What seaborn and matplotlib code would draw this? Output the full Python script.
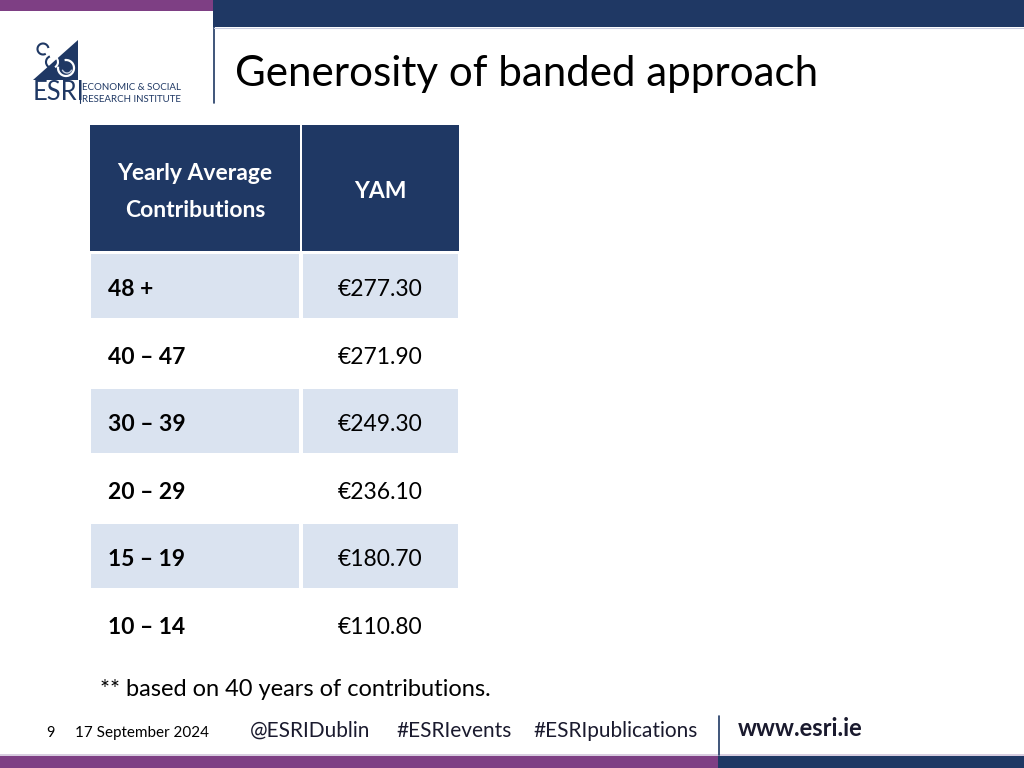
import matplotlib
matplotlib.use("Agg")
import matplotlib.pyplot as plt
from matplotlib.colors import ListedColormap
from matplotlib.patches import Rectangle, Polygon, Arc
import numpy as np
import seaborn as sns

# table data
bands = ["48 +", "40 \u2013 47", "30 \u2013 39", "20 \u2013 29", "15 \u2013 19", "10 \u2013 14"]
yam = [277.30, 271.90, 249.30, 236.10, 180.70, 110.80]
header = ["Yearly Average\nContributions", "YAM"]
title = "Generosity of banded approach"
note = "** based on 40 years of contributions."
footer = ["@ESRIDublin", "#ESRIevents", "#ESRIpublications"]

NAVY = "#1f3864"
PURPLE = "#7e3f84"
LIGHT = "#dae3f0"

sns.set_theme(style="white")
plt.rcParams["font.family"] = ["Lato", "DejaVu Sans"]

W, H = 1024, 768
fig = plt.figure(figsize=(10.24, 7.68), dpi=100)
fig.patch.set_facecolor("white")


def fax(x0, y0, x1, y1):
    # axes in pixel coords (top-left origin)
    return fig.add_axes([x0 / W, 1 - y1 / H, (x1 - x0) / W, (y1 - y0) / H])


# body rows via seaborn heatmaps, one per column (columns differ in width)
shade = np.array([[i % 2] for i in range(len(bands))])
cmap = ListedColormap([LIGHT, "white"])
row_top, row_bot = 252, 657
cols = [(89, 301), (301, 460)]
for c, (x0, x1) in enumerate(cols):
    a = fax(x0, row_top, x1, row_bot)
    sns.heatmap(shade, ax=a, cmap=cmap, vmin=0, vmax=1, cbar=False,
                linewidths=1.5, linecolor="white", xticklabels=False,
                yticklabels=False)
    for i, b in enumerate(bands):
        if c == 0:
            a.text(0.09, i + 0.56, b, ha="left", va="center", fontsize=16.5,
                   fontweight="bold", color="black")
        else:
            a.text(0.5, i + 0.56, f"\u20ac{yam[i]:.2f}", ha="center",
                   va="center", fontsize=16.5, color="black")

# overlay for slide decorations
ax = fig.add_axes([0, 0, 1, 1])
ax.set_xlim(0, W)
ax.set_ylim(H, 0)
ax.axis("off")
ax.patch.set_alpha(0)

# top bars
ax.add_patch(Rectangle((0, 0), 213, 11, color=PURPLE, lw=0))
ax.add_patch(Rectangle((213, 0), W - 213, 27, color=NAVY, lw=0))
ax.plot([213.5, 213.5], [27, 103], color=NAVY, lw=1.2)
ax.plot([214, W], [28, 28], color="#c9cde0", lw=0.8)

ax.text(235, 74, title, fontsize=30.3, color="black", va="center", ha="left")

# header cells
for (x0, x1), h in zip(cols, header):
    ax.add_patch(Rectangle((x0 + 0.75, 125), x1 - x0 - 1.5, 126, color=NAVY, lw=0))
    ax.text((x0 + x1) / 2, 192, h, color="white", fontsize=16.5,
            fontweight="bold", ha="center", va="center", linespacing=1.95)

ax.text(100, 690, note, fontsize=17, color="black", ha="left", va="center")

# logo
ax.add_patch(Polygon([(33, 80), (78, 40), (78, 80)], closed=True, color=NAVY, lw=0))
ax.add_patch(Arc((43, 49), 11, 11, theta1=60, theta2=350, color=NAVY, lw=1.5))
ax.add_patch(Arc((52, 62), 12, 12, theta1=100, theta2=250, color=NAVY, lw=1.5))
ax.add_patch(Arc((52, 62), 12, 12, theta1=250, theta2=420, color="white", lw=1.5))
ax.add_patch(Arc((66, 68), 16, 16, theta1=260, theta2=550, color="white", lw=1.6))
ax.add_patch(Arc((67, 68), 10, 10, theta1=20, theta2=160, color="#c8d0e0", lw=1.0))
ax.text(33, 93, "ESRI", fontsize=18.4, color=NAVY, ha="left", va="center")
ax.plot([79.5, 79.5], [83, 103], color=NAVY, lw=0.8)
ax.text(82, 87, "ECONOMIC & SOCIAL", fontsize=7.0, color=NAVY, ha="left", va="center")
ax.text(82, 99, "RESEARCH INSTITUTE", fontsize=7.0, color=NAVY, ha="left", va="center")

# footer
ax.text(50, 733, "9", fontsize=10.5, color="black", ha="center", va="center")
ax.text(75, 733, "17 September 2024", fontsize=11, color="black", ha="left", va="center")
for x, t in zip([250, 396, 533], footer):
    ax.text(x, 731, t, fontsize=15, color="#1a1a2e", ha="left", va="center")
ax.text(738, 729, "www.esri.ie", fontsize=17, fontweight="bold", color="#1a1a2e",
        ha="left", va="center")
ax.plot([718.5, 718.5], [716, 755], color=NAVY, lw=1.2)
ax.add_patch(Rectangle((0, 754), W, 2, color="#d8cde0", lw=0))
ax.add_patch(Rectangle((0, 756), 718, 12, color=PURPLE, lw=0))
ax.add_patch(Rectangle((718, 756), W - 718, 12, color=NAVY, lw=0))

fig.savefig("out.png", dpi=100)
